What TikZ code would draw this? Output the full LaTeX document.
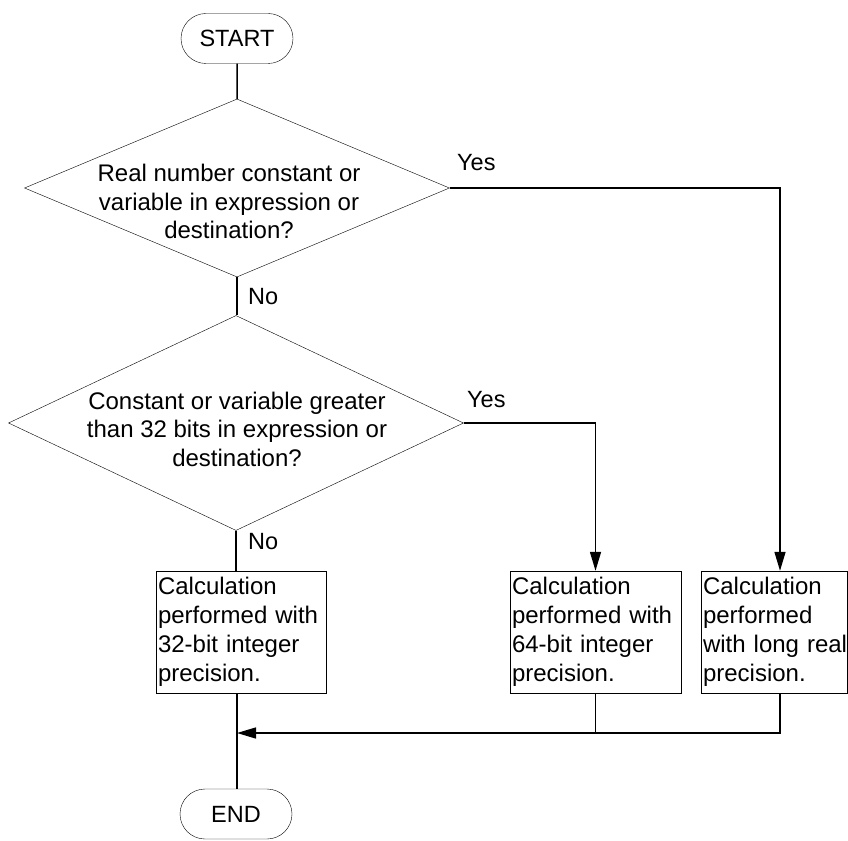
\documentclass[tikz,border=0pt]{standalone}
\usepackage{fontspec}
\setmainfont{Liberation Sans}
\usetikzlibrary{arrows.meta, positioning, shapes.geometric, shapes.misc, calc}
\tikzset{
  termbox/.style={draw, rounded rectangle, minimum width=112pt, minimum height=50pt,
                  inner sep=0pt, font=\fontsize{23.5}{27}\selectfont},
  decide/.style={draw, diamond, inner sep=0pt},
  dtext/.style={align=center, inner sep=0pt, font=\fontsize{24}{28.5}\selectfont},
  procbox/.style={draw, align=left, text width=#1, inner xsep=2pt, inner ysep=2pt,
                  minimum height=122pt, font=\fontsize{24}{29}\selectfont},
  lbl/.style={inner sep=0pt, font=\fontsize{23.5}{27}\selectfont},
  line/.style={line width=1.5pt},
  arr/.style={line, -{Triangle[length=19pt, width=11pt]}},
}
\begin{document}
\begin{tikzpicture}[x=1pt, y=-1pt, line join=miter]
  \useasboundingbox (0,0) rectangle (848,840);

  \node[termbox] (start) at (237, 38.5) {START};

  \node[decide, minimum width=425pt, minimum height=178pt] (d1) at (237, 188) {};
  \node[dtext] (q1) at (229, 201.5) {Real number constant or\\variable in expression or\\destination?};

  \node[decide, minimum width=455pt, minimum height=215pt] (d2) at (236, 423) {};
  \node[dtext] (q2) at (237, 429) {Constant or variable greater\\than 32 bits in expression or\\destination?};

  \node[procbox=166pt] (b1) at (241, 632) {Calculation\\performed with\\32-bit integer\\precision.};
  \node[procbox=167pt] (b2) at (595.5, 632) {Calculation\\performed with\\64-bit integer\\precision.};
  \node[procbox=142pt] (b3) at (774, 632) {Calculation\\performed\\\mbox{with long real}\\precision.};

  \node[termbox] (end) at (236, 814) {END};
  \coordinate (merge) at (237, 733);

  \node[lbl, anchor=west] (yes1) at (457, 163) {Yes};
  \node[lbl, anchor=west] (no1) at (248, 297) {No};
  \node[lbl, anchor=west] (yes2) at (467, 400) {Yes};
  \node[lbl, anchor=west] (no2) at (248, 542) {No};

  \draw[line] (start) -- (d1);
  \draw[arr] (d1.east) -| ([xshift=6pt]b3.north);
  \draw[line] (d1.south) -- (d1.south |- d2.north);
  \draw[arr] (d2.east) -| (b2.north);
  \draw[line] (d2.south) -- (d2.south |- b1.north);
  \draw[line] (merge |- b1.south) -- (merge |- end.north);
  \draw[line] (b2.south) -- (b2.south |- merge);
  \draw[arr] ([xshift=6pt]b3.south) |- (merge);
\end{tikzpicture}
\end{document}
